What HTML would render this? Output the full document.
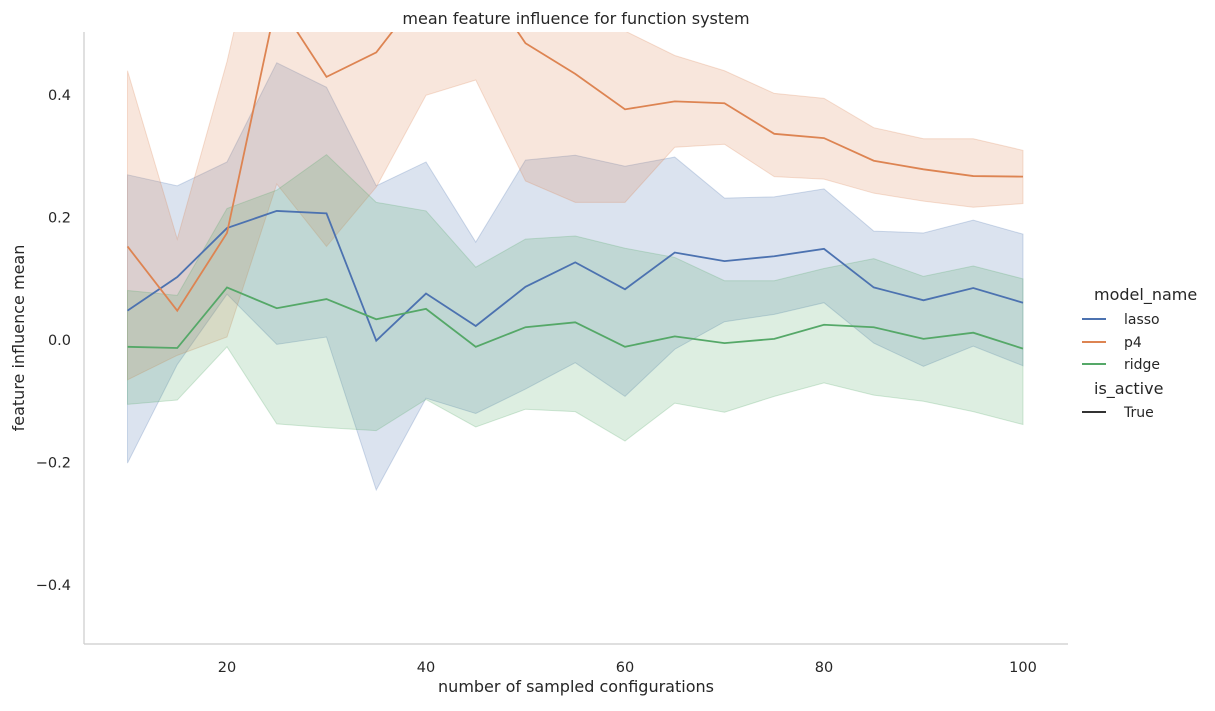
<!DOCTYPE html>
<html><head><meta charset="utf-8"><style>
body{margin:0;background:#fff;font-family:"Liberation Sans","DejaVu Sans",sans-serif;}
svg text{font-family:"DejaVu Sans","Liberation Sans",sans-serif;fill:#262626;}
</style></head><body>
<svg id="chart" width="1215" height="706" xmlns="http://www.w3.org/2000/svg">
<defs><clipPath id="clip"><rect x="84" y="32" width="984" height="612"/></clipPath></defs>
<g id="bands" clip-path="url(#clip)"></g>
<g id="lines" clip-path="url(#clip)"></g>
<g id="axes"></g>
</svg>
<script>
const xs=[10,15,20,25,30,35,40,45,50,55,60,65,70,75,80,85,90,95,100];
const lassoMean=[0.043,0.098,0.178,0.206,0.202,-0.006,0.071,0.018,0.082,0.122,0.078,0.138,0.124,0.132,0.144,0.081,0.060,0.080,0.056];
const lassoHi=[0.265,0.247,0.286,0.448,0.408,0.247,0.286,0.155,0.289,0.297,0.279,0.294,0.227,0.229,0.242,0.173,0.170,0.191,0.168];
const lassoLo=[-0.206,-0.045,0.07,-0.012,0.0,-0.25,-0.10,-0.125,-0.085,-0.042,-0.097,-0.02,0.025,0.037,0.056,-0.01,-0.048,-0.015,-0.047];
const p4Mean=[0.148,0.043,0.17,0.55,0.425,0.465,0.57,0.6,0.48,0.43,0.372,0.385,0.382,0.332,0.325,0.288,0.274,0.263,0.262];
const p4Hi=[0.435,0.16,0.45,0.8,0.8,0.8,0.8,0.8,0.8,0.6,0.5,0.46,0.435,0.398,0.39,0.342,0.324,0.324,0.305];
const p4Lo=[-0.07,-0.03,0.0,0.25,0.148,0.245,0.395,0.42,0.255,0.22,0.22,0.31,0.315,0.262,0.258,0.235,0.222,0.212,0.218];
const ridgeMean=[-0.016,-0.018,0.081,0.047,0.062,0.029,0.046,-0.016,0.016,0.024,-0.016,0.001,-0.01,-0.003,0.02,0.016,-0.003,0.007,-0.019];
const ridgeHi=[0.076,0.068,0.21,0.24,0.298,0.22,0.206,0.114,0.16,0.165,0.145,0.13,0.092,0.092,0.112,0.128,0.099,0.116,0.095];
const ridgeLo=[-0.11,-0.103,-0.016,-0.142,-0.148,-0.153,-0.102,-0.147,-0.118,-0.122,-0.17,-0.108,-0.123,-0.097,-0.075,-0.095,-0.105,-0.122,-0.143];
const xTicks=[20,40,60,80,100];
const yTicks=[-0.4,-0.2,0.0,0.2,0.4];
const X=v=>227+(v-20)*9.95;
const Y=v=>337-v*612;
const NS="http://www.w3.org/2000/svg";
function mk(t,a,p){const e=document.createElementNS(NS,t);for(const k in a)e.setAttribute(k,a[k]);p.appendChild(e);return e;}
const bands=document.getElementById('bands'),lines=document.getElementById('lines'),axes=document.getElementById('axes');
const series=[["lasso",lassoMean,lassoHi,lassoLo,"#4c72b0"],["p4",p4Mean,p4Hi,p4Lo,"#dd8452"],["ridge",ridgeMean,ridgeHi,ridgeLo,"#55a868"]];
series.forEach(s=>{
 let d=xs.map((x,i)=>(i?'L':'M')+X(x)+','+Y(s[2][i])).join('');
 for(let i=xs.length-1;i>=0;i--)d+='L'+X(xs[i])+','+Y(s[3][i]);
 const b=mk('path',{d:d+'Z',fill:s[4],'fill-opacity':0.2,stroke:s[4],'stroke-opacity':0.25},bands);
 
 
 const l=mk('path',{d:xs.map((x,i)=>(i?'L':'M')+X(x)+','+Y(s[1][i])).join(''),fill:'none',stroke:s[4],'stroke-width':1.8},lines);
 
 
});
mk('line',{x1:84,y1:32,x2:84,y2:644,stroke:'#ccc','stroke-width':1.2},axes);
mk('line',{x1:84,y1:644,x2:1068,y2:644,stroke:'#ccc','stroke-width':1.2},axes);
xTicks.forEach(t=>{const e=mk('text',{x:X(t),y:672,'text-anchor':'middle','font-size':14.5},axes);e.textContent=t;
 
 });
yTicks.forEach(t=>{const e=mk('text',{x:71,y:Y(t)+8,'text-anchor':'end','font-size':14.5},axes);e.textContent=(t<0?'\u2212':'')+Math.abs(t).toFixed(1);
 
 });
</script>
<svg style="position:absolute;left:0;top:0" width="1215" height="706" xmlns="http://www.w3.org/2000/svg">
<text x="576" y="24" text-anchor="middle" font-size="16">mean feature influence for function system</text>
<text x="576" y="692" text-anchor="middle" font-size="16">number of sampled configurations</text>
<text transform="translate(24,338) rotate(-90)" text-anchor="middle" font-size="16">feature influence mean</text>
<g font-size="14">
<text x="1094" y="300" font-size="16">model_name</text>
<line x1="1082" y1="319" x2="1106" y2="319" stroke="#4c72b0" stroke-width="2"/><text x="1124" y="324">lasso</text>
<line x1="1082" y1="342" x2="1106" y2="342" stroke="#dd8452" stroke-width="2"/><text x="1124" y="347">p4</text>
<line x1="1082" y1="364" x2="1106" y2="364" stroke="#55a868" stroke-width="2"/><text x="1124" y="369">ridge</text>
<text x="1094" y="394" font-size="16">is_active</text>
<line x1="1082" y1="412" x2="1106" y2="412" stroke="#333" stroke-width="2"/><text x="1124" y="417">True</text>
</g>
</svg>
</body></html>
